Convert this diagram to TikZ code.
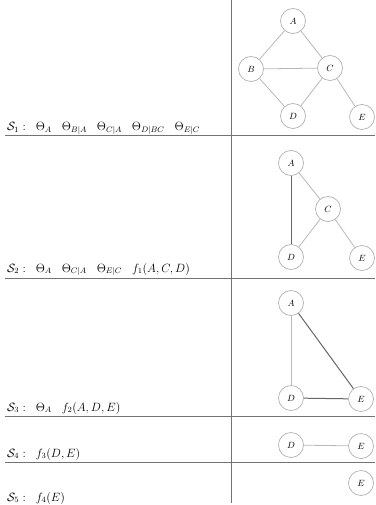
\documentclass[tikz,border=0pt]{standalone}
\usepackage{amsmath}
\begin{document}
\begin{tikzpicture}[x=1pt,y=-1pt,
  rv/.style={circle,draw=black!30,line width=0.7pt,fill=white,minimum size=25pt,inner sep=0pt,font=\small},
  lite/.style={draw=black!28,line width=0.8pt},
  dark/.style={draw=black!60,line width=1pt},
  rule/.style={draw=black!55,line width=0.6pt},
  lab/.style={anchor=base west,inner sep=0pt,font=\fontsize{12}{14}\selectfont}]
\useasboundingbox (0,0) rectangle (375,505);
% grid lines
\coordinate (vt) at (231,0); \coordinate (vb) at (231,503);
\draw[rule] (vt) -- (vb);
\foreach \yy/\nm in {135/h1,278/h2,416/h3,462/h4}{
  \coordinate (\nm l) at (5,\yy); \coordinate (\nm r) at (375,\yy);
  \draw[rule] (\nm l) -- (\nm r);
}
% labels
\newcommand{\gp}{\hspace{10pt}}
\node[lab] (s1) at (7,131) {$\mathcal{S}_1:\;\;\Theta_A\gp\Theta_{B|A}\gp\Theta_{C|A}\gp\Theta_{D|BC}\gp\Theta_{E|C}$};
\node[lab] (s2) at (7,272) {$\mathcal{S}_2:\;\;\Theta_A\gp\Theta_{C|A}\gp\Theta_{E|C}\gp f_1(A,C,D)$};
\node[lab] (s3) at (7,411) {$\mathcal{S}_3:\;\;\Theta_A\gp f_2(A,D,E)$};
\node[lab] (s4) at (7,457) {$\mathcal{S}_4:\;\;f_3(D,E)$};
\node[lab] (s5) at (7,501) {$\mathcal{S}_5:\;\;f_4(E)$};
% panel 1
\node[rv] (a1) at (293,21) {$A$};
\node[rv] (b1) at (251,69) {$B$};
\node[rv] (c1) at (330,68) {$C$};
\node[rv] (d1) at (293,116) {$D$};
\node[rv] (e1) at (362,117) {$E$};
\draw[lite] (a1)--(b1) (a1)--(c1) (b1)--(c1) (b1)--(d1) (c1)--(d1) (c1)--(e1);
% panel 2
\node[rv] (a2) at (291,163) {$A$};
\node[rv] (c2) at (328,209) {$C$};
\node[rv] (d2) at (291,257) {$D$};
\node[rv] (e2) at (362,258) {$E$};
\draw[lite] (a2)--(c2) (c2)--(d2) (c2)--(e2);
\draw[dark] (a2)--(d2);
% panel 3
\node[rv] (a3) at (291,303) {$A$};
\node[rv] (d3) at (291,398) {$D$};
\node[rv] (e3) at (361,399) {$E$};
\draw[lite] (a3)--(d3);
\draw[dark] (a3)--(e3) (d3)--(e3);
% panel 4
\node[rv] (d4) at (291,445) {$D$};
\node[rv] (e4) at (361,446) {$E$};
\draw[lite] (d4)--(e4);
% panel 5
\node[rv] (e5) at (361,483) {$E$};
\end{tikzpicture}
\end{document}
